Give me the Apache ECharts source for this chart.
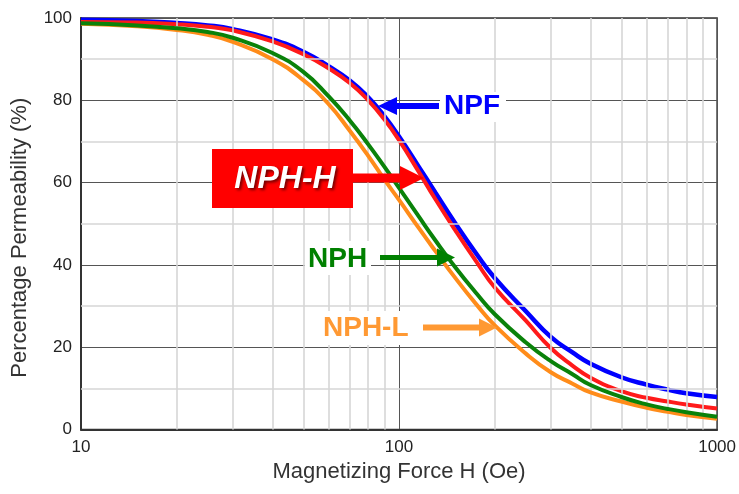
<!DOCTYPE html>
<html>
<head>
<meta charset="utf-8">
<script src="https://cdn.jsdelivr.net/npm/echarts@6/dist/echarts.min.js"></script>
<style>
html,body{margin:0;padding:0;background:#fff;}
#chart{width:739px;height:494px;}
</style>
</head>
<body>
<div id="chart"></div>
<script>
// ---- data ----
var hValues = [10, 15, 20, 25, 30, 40, 50, 60, 70, 80, 90, 100, 115, 130, 150, 175, 200, 250, 300, 350, 400, 500, 600, 700, 800, 1000];
var npf  = [99.6, 99.3, 98.8, 98.2, 97.3, 94.8, 91.8, 88.3, 84.8, 80.7, 76.1, 71.2, 64.0, 57.6, 50.2, 42.7, 36.8, 28.8, 22.5, 18.8, 16.0, 12.7, 10.9, 9.7, 8.8, 7.9];
var nphH = [99.0, 98.9, 98.5, 97.9, 97.0, 94.3, 91.2, 87.8, 84.2, 80.0, 75.3, 70.3, 62.8, 56.0, 48.5, 40.8, 34.5, 26.5, 19.8, 15.6, 12.6, 9.3, 7.7, 6.8, 6.1, 5.1];
var nph  = [98.7, 98.2, 97.5, 96.6, 95.2, 91.5, 86.9, 81.0, 75.1, 69.3, 63.8, 58.7, 51.9, 46.0, 39.5, 33.1, 28.0, 21.2, 16.6, 13.5, 10.8, 7.9, 6.1, 5.0, 4.2, 3.1];
var nphL = [98.6, 98.0, 97.1, 95.9, 94.2, 90.0, 84.9, 79.1, 72.6, 66.5, 60.7, 55.8, 49.1, 43.4, 36.9, 30.4, 25.3, 18.5, 13.9, 11.2, 9.0, 6.8, 5.3, 4.3, 3.5, 2.6];
var minorX = [20, 30, 40, 50, 60, 70, 80, 90, 200, 300, 400, 500, 600, 700, 800, 900];
var minorY = [10, 30, 50, 70, 90];
var xAxisTitle = 'Magnetizing Force H (Oe)';
var yAxisTitle = 'Percentage Permeability (%)';

function pairs(ys){ return hValues.map(function(h,i){ return [h, ys[i]]; }); }

var chart = echarts.init(document.getElementById('chart'), null, {renderer:'canvas'});
var FONT = 'Liberation Sans, Arial, Helvetica, sans-serif';

function lineSeries(name, ys, color, width, z){
  return {
    name: name, type:'line', data: pairs(ys), smooth: 0.5,
    showSymbol:false, symbol:'none', z: z,
    lineStyle:{color: color, width: width},
    animation:false
  };
}

function arrow(x1, x2, y, th, headLen, headH, color){
  var dir = x2 > x1 ? 1 : -1;
  var base = x2 - dir*headLen;
  return [
    {type:'rect', shape:{x: Math.min(x1, base), y: y - th/2, width: Math.abs(base - x1) + 1, height: th}, style:{fill: color}, z:100},
    {type:'polygon', shape:{points:[[x2, y],[base, y - headH/2],[base, y + headH/2]]}, style:{fill: color}, z:100}
  ];
}

var graphics = [];
// NPF
graphics.push({type:'rect', shape:{x:440,y:92,width:66,height:30}, style:{fill:'#fff'}, z:99});
graphics.push({type:'text', left:444, top:92, style:{text:'NPF', fill:'#0000ff', font:'bold 28px '+FONT}, z:101});
graphics = graphics.concat(arrow(438, 378, 106, 6, 19, 18, '#0000ff'));
// NPH-H
graphics.push({type:'rect', shape:{x:212,y:149,width:141,height:59}, style:{fill:'#ff0000'}, z:99});
graphics.push({type:'text', x:285, y:179, style:{text:'NPH-H', fill:'#ffffff', font:'italic bold 32px '+FONT, textAlign:'center', textVerticalAlign:'middle', textShadowColor:'rgba(0,0,0,0.55)', textShadowBlur:3, textShadowOffsetX:2, textShadowOffsetY:2}, z:101});
graphics = graphics.concat(arrow(352, 424, 178, 9, 24, 24, '#ff0000'));
// NPH
graphics.push({type:'rect', shape:{x:305,y:241,width:66,height:34}, style:{fill:'#fff'}, z:99});
graphics.push({type:'text', x:308, y:259, style:{text:'NPH', fill:'#008000', font:'bold 28px '+FONT, textVerticalAlign:'middle'}, z:101});
graphics = graphics.concat(arrow(380, 455, 257.5, 5, 18, 18, '#008000'));
// NPH-L
graphics.push({type:'rect', shape:{x:319,y:311,width:96,height:34}, style:{fill:'#fff'}, z:99});
graphics.push({type:'text', x:323, y:328, style:{text:'NPH-L', fill:'#ff9933', font:'bold 28px '+FONT, textVerticalAlign:'middle'}, z:101});
graphics = graphics.concat(arrow(423, 497, 327.5, 6, 18, 18, '#ff9933'));

var option = {
  backgroundColor:'#ffffff',
  animation:false,
  grid:{left:81, right:17.5, top:18, bottom:64.5, show:true, borderColor:'#333', borderWidth:1.5, backgroundColor:'transparent'},
  xAxis:{
    type:'log', logBase:10, min:10, max:1000,
    name: xAxisTitle, nameLocation:'middle', nameGap:31,
    nameTextStyle:{fontFamily:FONT, fontSize:22, color:'#333'},
    axisLine:{show:true, lineStyle:{color:'#333', width:2}},
    axisTick:{show:false},
    axisLabel:{fontFamily:FONT, fontSize:17, color:'#222', margin:9, formatter:function(v){return String(Math.round(v));}},
    splitLine:{show:true, lineStyle:{color:'#555', width:1}}
  },
  yAxis:{
    type:'value', min:0, max:100, interval:20,
    name: yAxisTitle, nameLocation:'middle', nameGap:50, nameRotate:90,
    nameTextStyle:{fontFamily:FONT, fontSize:22, color:'#333', padding:[0,28,0,0]},
    axisLine:{show:true, lineStyle:{color:'#333', width:2}},
    axisTick:{show:false},
    axisLabel:{fontFamily:FONT, fontSize:17, color:'#222', margin:9},
    splitLine:{show:true, lineStyle:{color:'#555', width:1}}
  },
  series:[
    {
      name:'grid-minor', type:'line', data:[], z:1, silent:true,
      markLine:{
        silent:true, symbol:'none', animation:false,
        label:{show:false},
        lineStyle:{color:'#d6d6d6', width:1.6, type:'solid'},
        emphasis:{disabled:true},
        data: minorX.map(function(v){return {xAxis:v};}).concat(minorY.map(function(v){return {yAxis:v};}))
      }
    },
    lineSeries('NPF', npf, '#0000ff', 4.5, 3),
    lineSeries('NPH-H', nphH, '#ff1a1a', 4, 4),
    lineSeries('NPH-L', nphL, '#ff8c1a', 4, 5),
    lineSeries('NPH', nph, '#0a820a', 4, 6)
  ],
  graphic: graphics
};
chart.setOption(option);
</script>
</body>
</html>
